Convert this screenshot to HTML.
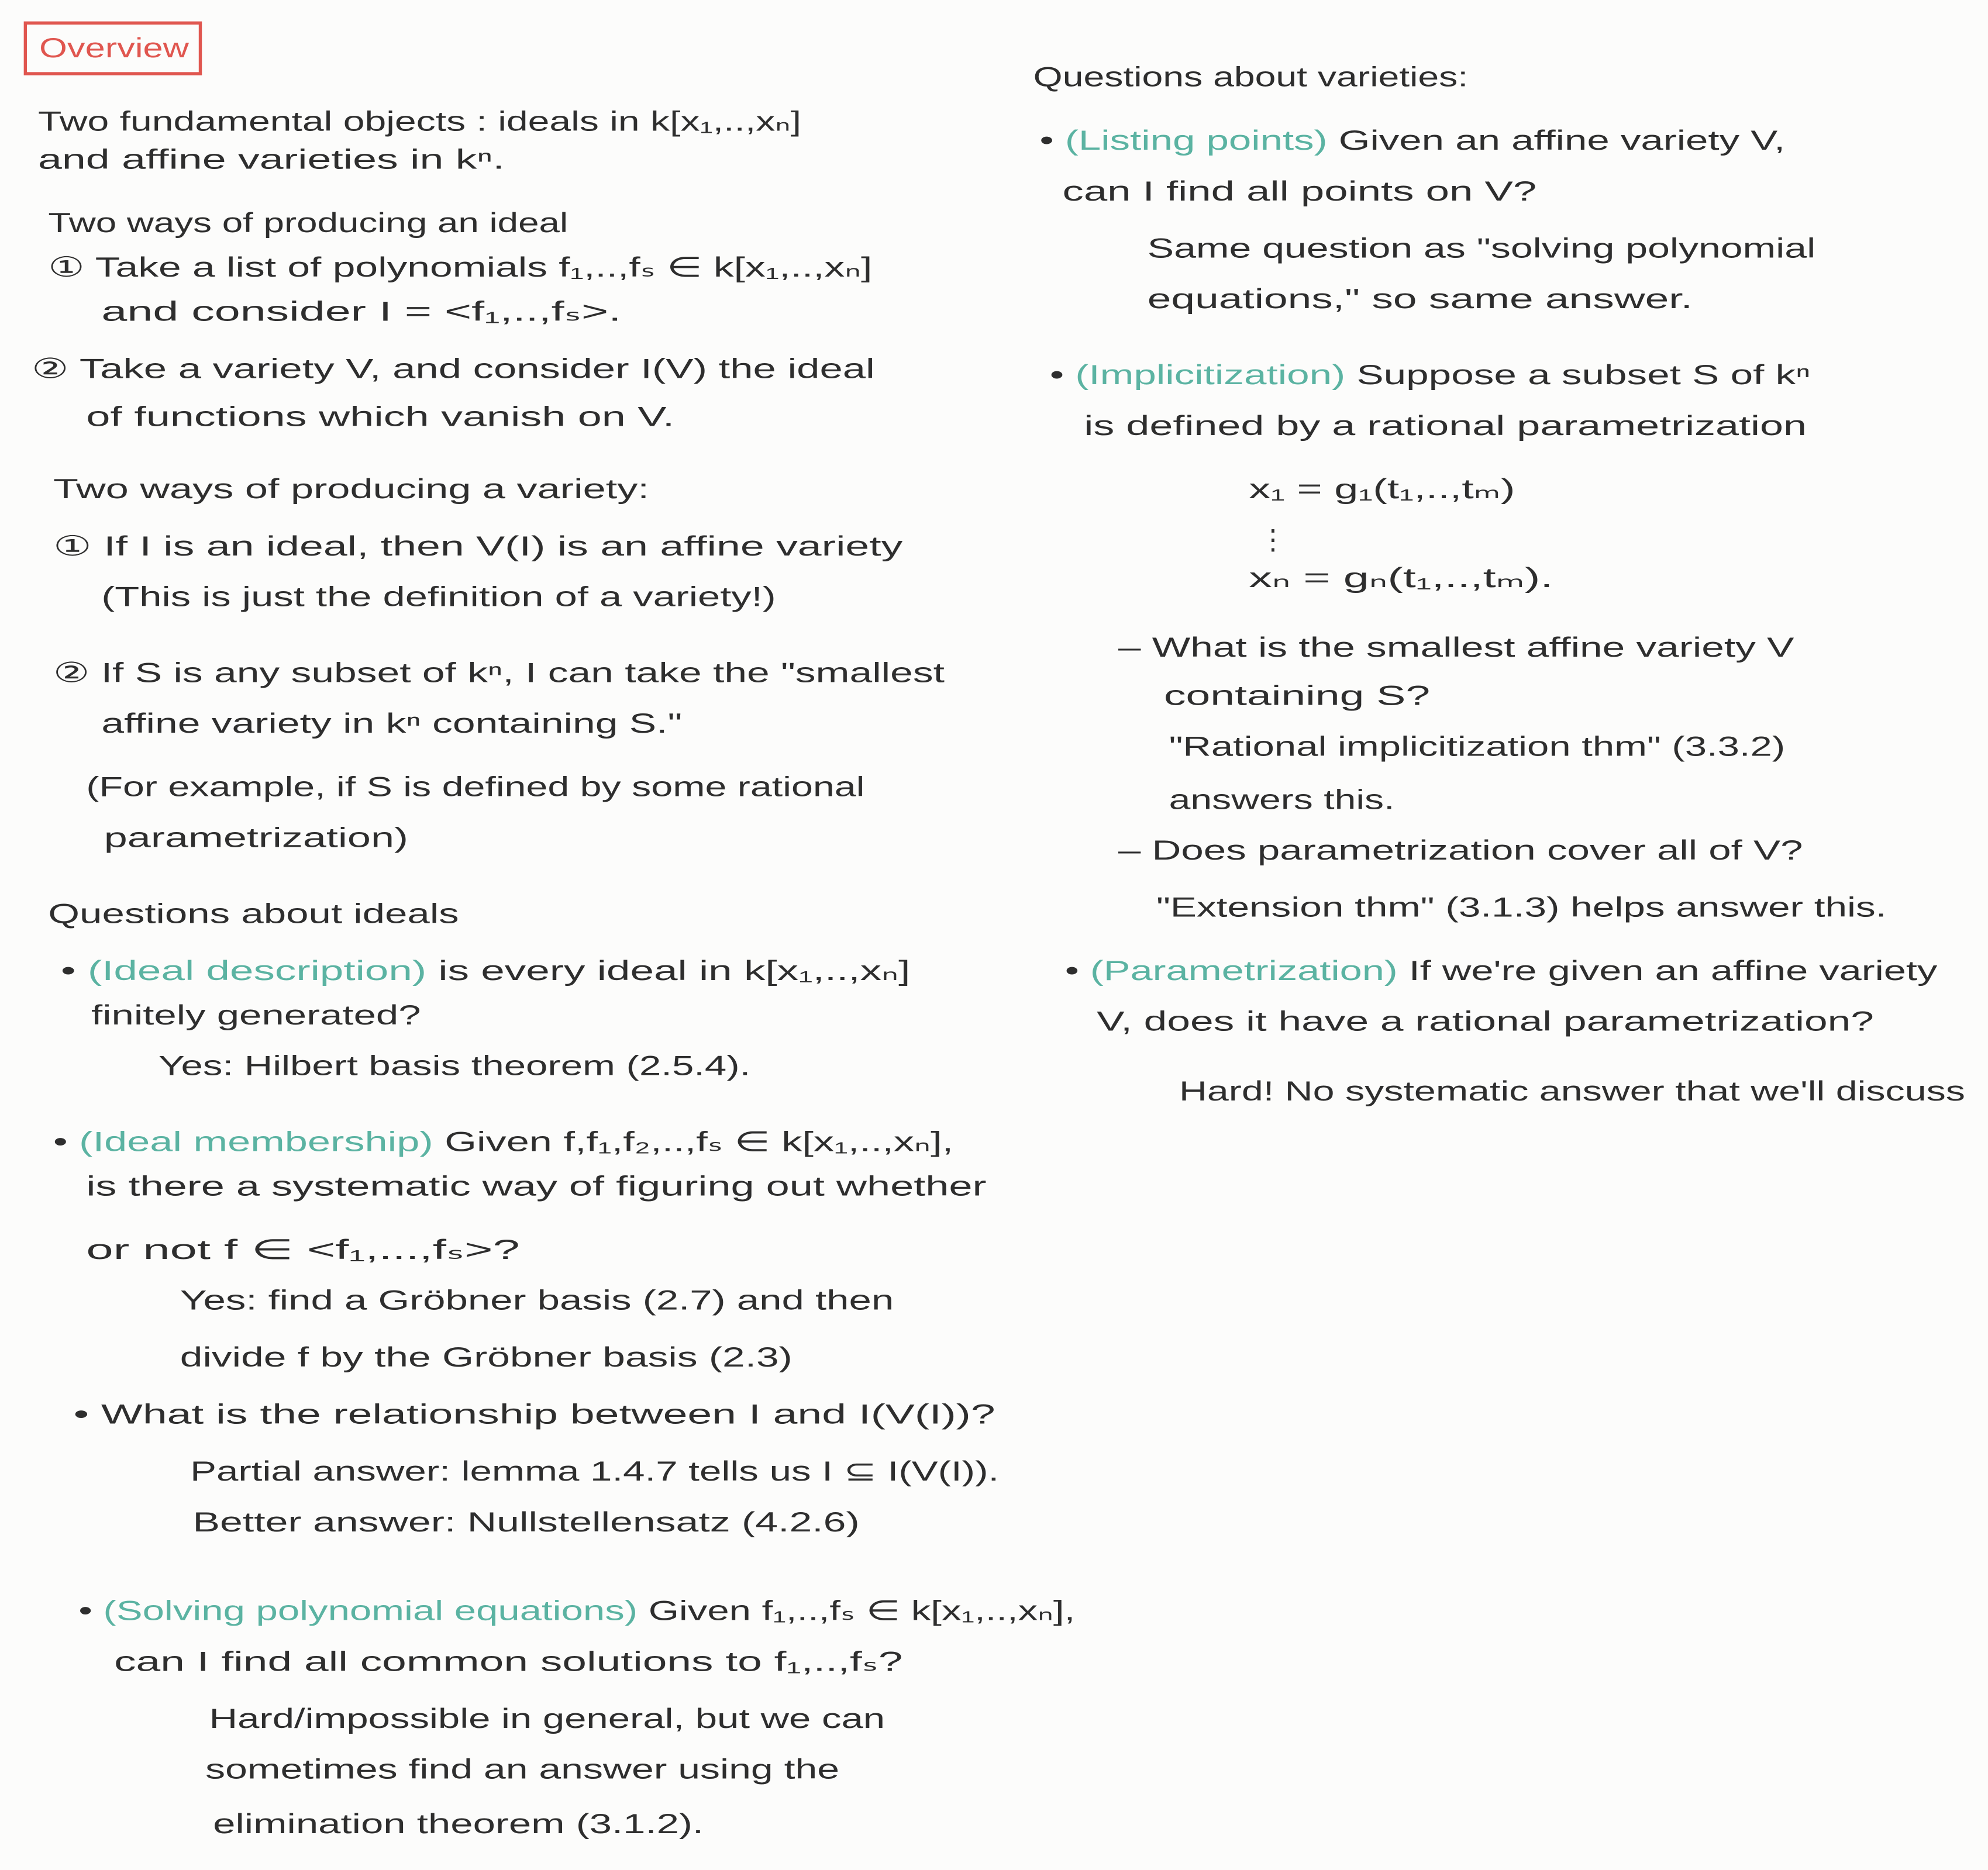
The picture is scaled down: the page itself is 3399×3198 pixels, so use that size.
<!DOCTYPE html>
<html><head><meta charset="utf-8"><style>
html,body{margin:0;padding:0;background:#fcfcfb;}
svg{display:block;}
text{font-family:"Liberation Sans","DejaVu Sans",sans-serif;font-size:22px;fill:#2e2e2e;}
.t{fill:#5bb3a2;}
</style></head><body>
<svg width="3399" height="3198" viewBox="0 0 1568 1475" xmlns="http://www.w3.org/2000/svg">
<rect x="0" y="0" width="1568" height="1475" fill="#fcfcfb"/>
<rect x="20" y="18" width="138" height="40" fill="none" stroke="#e0564f" stroke-width="2.5"/>
<text x="31" y="45" textLength="118" lengthAdjust="spacingAndGlyphs" style="fill:#e0564f">Overview</text>

<g lengthAdjust="spacingAndGlyphs">
<text x="30" y="103" textLength="602" lengthAdjust="spacingAndGlyphs">Two fundamental objects : ideals in k[x₁,..,xₙ]</text>
<text x="30" y="133" textLength="368" lengthAdjust="spacingAndGlyphs">and affine varieties in kⁿ.</text>
<text x="38" y="183" textLength="410" lengthAdjust="spacingAndGlyphs">Two ways of producing an ideal</text>
<text x="38" y="218" textLength="650" lengthAdjust="spacingAndGlyphs">① Take a list of polynomials f₁,..,fₛ ∈ k[x₁,..,xₙ]</text>
<text x="80" y="253" textLength="410" lengthAdjust="spacingAndGlyphs">and consider I = &lt;f₁,..,fₛ&gt;.</text>
<text x="25" y="298" textLength="665" lengthAdjust="spacingAndGlyphs">② Take a variety V, and consider I(V) the ideal</text>
<text x="68" y="336" textLength="464" lengthAdjust="spacingAndGlyphs">of functions which vanish on V.</text>
<text x="42" y="393" textLength="470" lengthAdjust="spacingAndGlyphs">Two ways of producing a variety:</text>
<text x="42" y="438" textLength="670" lengthAdjust="spacingAndGlyphs">① If I is an ideal, then V(I) is an affine variety</text>
<text x="80" y="478" textLength="532" lengthAdjust="spacingAndGlyphs">(This is just the definition of a variety!)</text>
<text x="42" y="538" textLength="703" lengthAdjust="spacingAndGlyphs">② If S is any subset of kⁿ, I can take the "smallest</text>
<text x="80" y="578" textLength="458" lengthAdjust="spacingAndGlyphs">affine variety in kⁿ containing S."</text>
<text x="68" y="628" textLength="614" lengthAdjust="spacingAndGlyphs">(For example, if S is defined by some rational</text>
<text x="82" y="668" textLength="240" lengthAdjust="spacingAndGlyphs">parametrization)</text>
<text x="38" y="728" textLength="324" lengthAdjust="spacingAndGlyphs">Questions about ideals</text>
<text x="48" y="773" textLength="670" lengthAdjust="spacingAndGlyphs">• <tspan class="t">(Ideal description)</tspan> is every ideal in k[x₁,..,xₙ]</text>
<text x="72" y="808" textLength="260" lengthAdjust="spacingAndGlyphs">finitely generated?</text>
<text x="125" y="848" textLength="467" lengthAdjust="spacingAndGlyphs">Yes: Hilbert basis theorem (2.5.4).</text>
<text x="42" y="908" textLength="710" lengthAdjust="spacingAndGlyphs">• <tspan class="t">(Ideal membership)</tspan> Given f,f₁,f₂,..,fₛ ∈ k[x₁,..,xₙ],</text>
<text x="68" y="943" textLength="710" lengthAdjust="spacingAndGlyphs">is there a systematic way of figuring out whether</text>
<text x="68" y="993" textLength="342" lengthAdjust="spacingAndGlyphs">or not f ∈ &lt;f₁,...,fₛ&gt;?</text>
<text x="142" y="1033" textLength="563" lengthAdjust="spacingAndGlyphs">Yes: find a Gröbner basis (2.7) and then</text>
<text x="142" y="1078" textLength="483" lengthAdjust="spacingAndGlyphs">divide f by the Gröbner basis (2.3)</text>
<text x="58" y="1123" textLength="727" lengthAdjust="spacingAndGlyphs">• What is the relationship between I and I(V(I))?</text>
<text x="150" y="1168" textLength="638" lengthAdjust="spacingAndGlyphs">Partial answer: lemma 1.4.7 tells us I ⊆ I(V(I)).</text>
<text x="152" y="1208" textLength="526" lengthAdjust="spacingAndGlyphs">Better answer: Nullstellensatz (4.2.6)</text>
<text x="62" y="1278" textLength="786" lengthAdjust="spacingAndGlyphs">• <tspan class="t">(Solving polynomial equations)</tspan> Given f₁,..,fₛ ∈ k[x₁,..,xₙ],</text>
<text x="90" y="1318" textLength="622" lengthAdjust="spacingAndGlyphs">can I find all common solutions to f₁,..,fₛ?</text>
<text x="165" y="1363" textLength="533" lengthAdjust="spacingAndGlyphs">Hard/impossible in general, but we can</text>
<text x="162" y="1403" textLength="500" lengthAdjust="spacingAndGlyphs">sometimes find an answer using the</text>
<text x="168" y="1446" textLength="387" lengthAdjust="spacingAndGlyphs">elimination theorem (3.1.2).</text>

<text x="815" y="68" textLength="343" lengthAdjust="spacingAndGlyphs">Questions about varieties:</text>
<text x="820" y="118" textLength="588" lengthAdjust="spacingAndGlyphs">• <tspan class="t">(Listing points)</tspan> Given an affine variety V,</text>
<text x="838" y="158" textLength="374" lengthAdjust="spacingAndGlyphs">can I find all points on V?</text>
<text x="905" y="203" textLength="527" lengthAdjust="spacingAndGlyphs">Same question as "solving polynomial</text>
<text x="905" y="243" textLength="430" lengthAdjust="spacingAndGlyphs">equations," so same answer.</text>
<text x="828" y="303" textLength="600" lengthAdjust="spacingAndGlyphs">• <tspan class="t">(Implicitization)</tspan> Suppose a subset S of kⁿ</text>
<text x="855" y="343" textLength="570" lengthAdjust="spacingAndGlyphs">is defined by a rational parametrization</text>
<text x="985" y="393" textLength="210" lengthAdjust="spacingAndGlyphs">x₁ = g₁(t₁,..,tₘ)</text>
<text x="993" y="433">⋮</text>
<text x="985" y="463" textLength="240" lengthAdjust="spacingAndGlyphs">xₙ = gₙ(t₁,..,tₘ).</text>
<text x="882" y="518" textLength="533" lengthAdjust="spacingAndGlyphs">– What is the smallest affine variety V</text>
<text x="918" y="556" textLength="210" lengthAdjust="spacingAndGlyphs">containing S?</text>
<text x="922" y="596" textLength="486" lengthAdjust="spacingAndGlyphs">"Rational implicitization thm" (3.3.2)</text>
<text x="922" y="638" textLength="178" lengthAdjust="spacingAndGlyphs">answers this.</text>
<text x="882" y="678" textLength="540" lengthAdjust="spacingAndGlyphs">– Does parametrization cover all of V?</text>
<text x="912" y="723" textLength="576" lengthAdjust="spacingAndGlyphs">"Extension thm" (3.1.3) helps answer this.</text>
<text x="840" y="773" textLength="688" lengthAdjust="spacingAndGlyphs">• <tspan class="t">(Parametrization)</tspan> If we're given an affine variety</text>
<text x="865" y="813" textLength="613" lengthAdjust="spacingAndGlyphs">V, does it have a rational parametrization?</text>
<text x="930" y="868" textLength="620" lengthAdjust="spacingAndGlyphs">Hard! No systematic answer that we'll discuss</text>
</g>
</svg>
</body></html>
